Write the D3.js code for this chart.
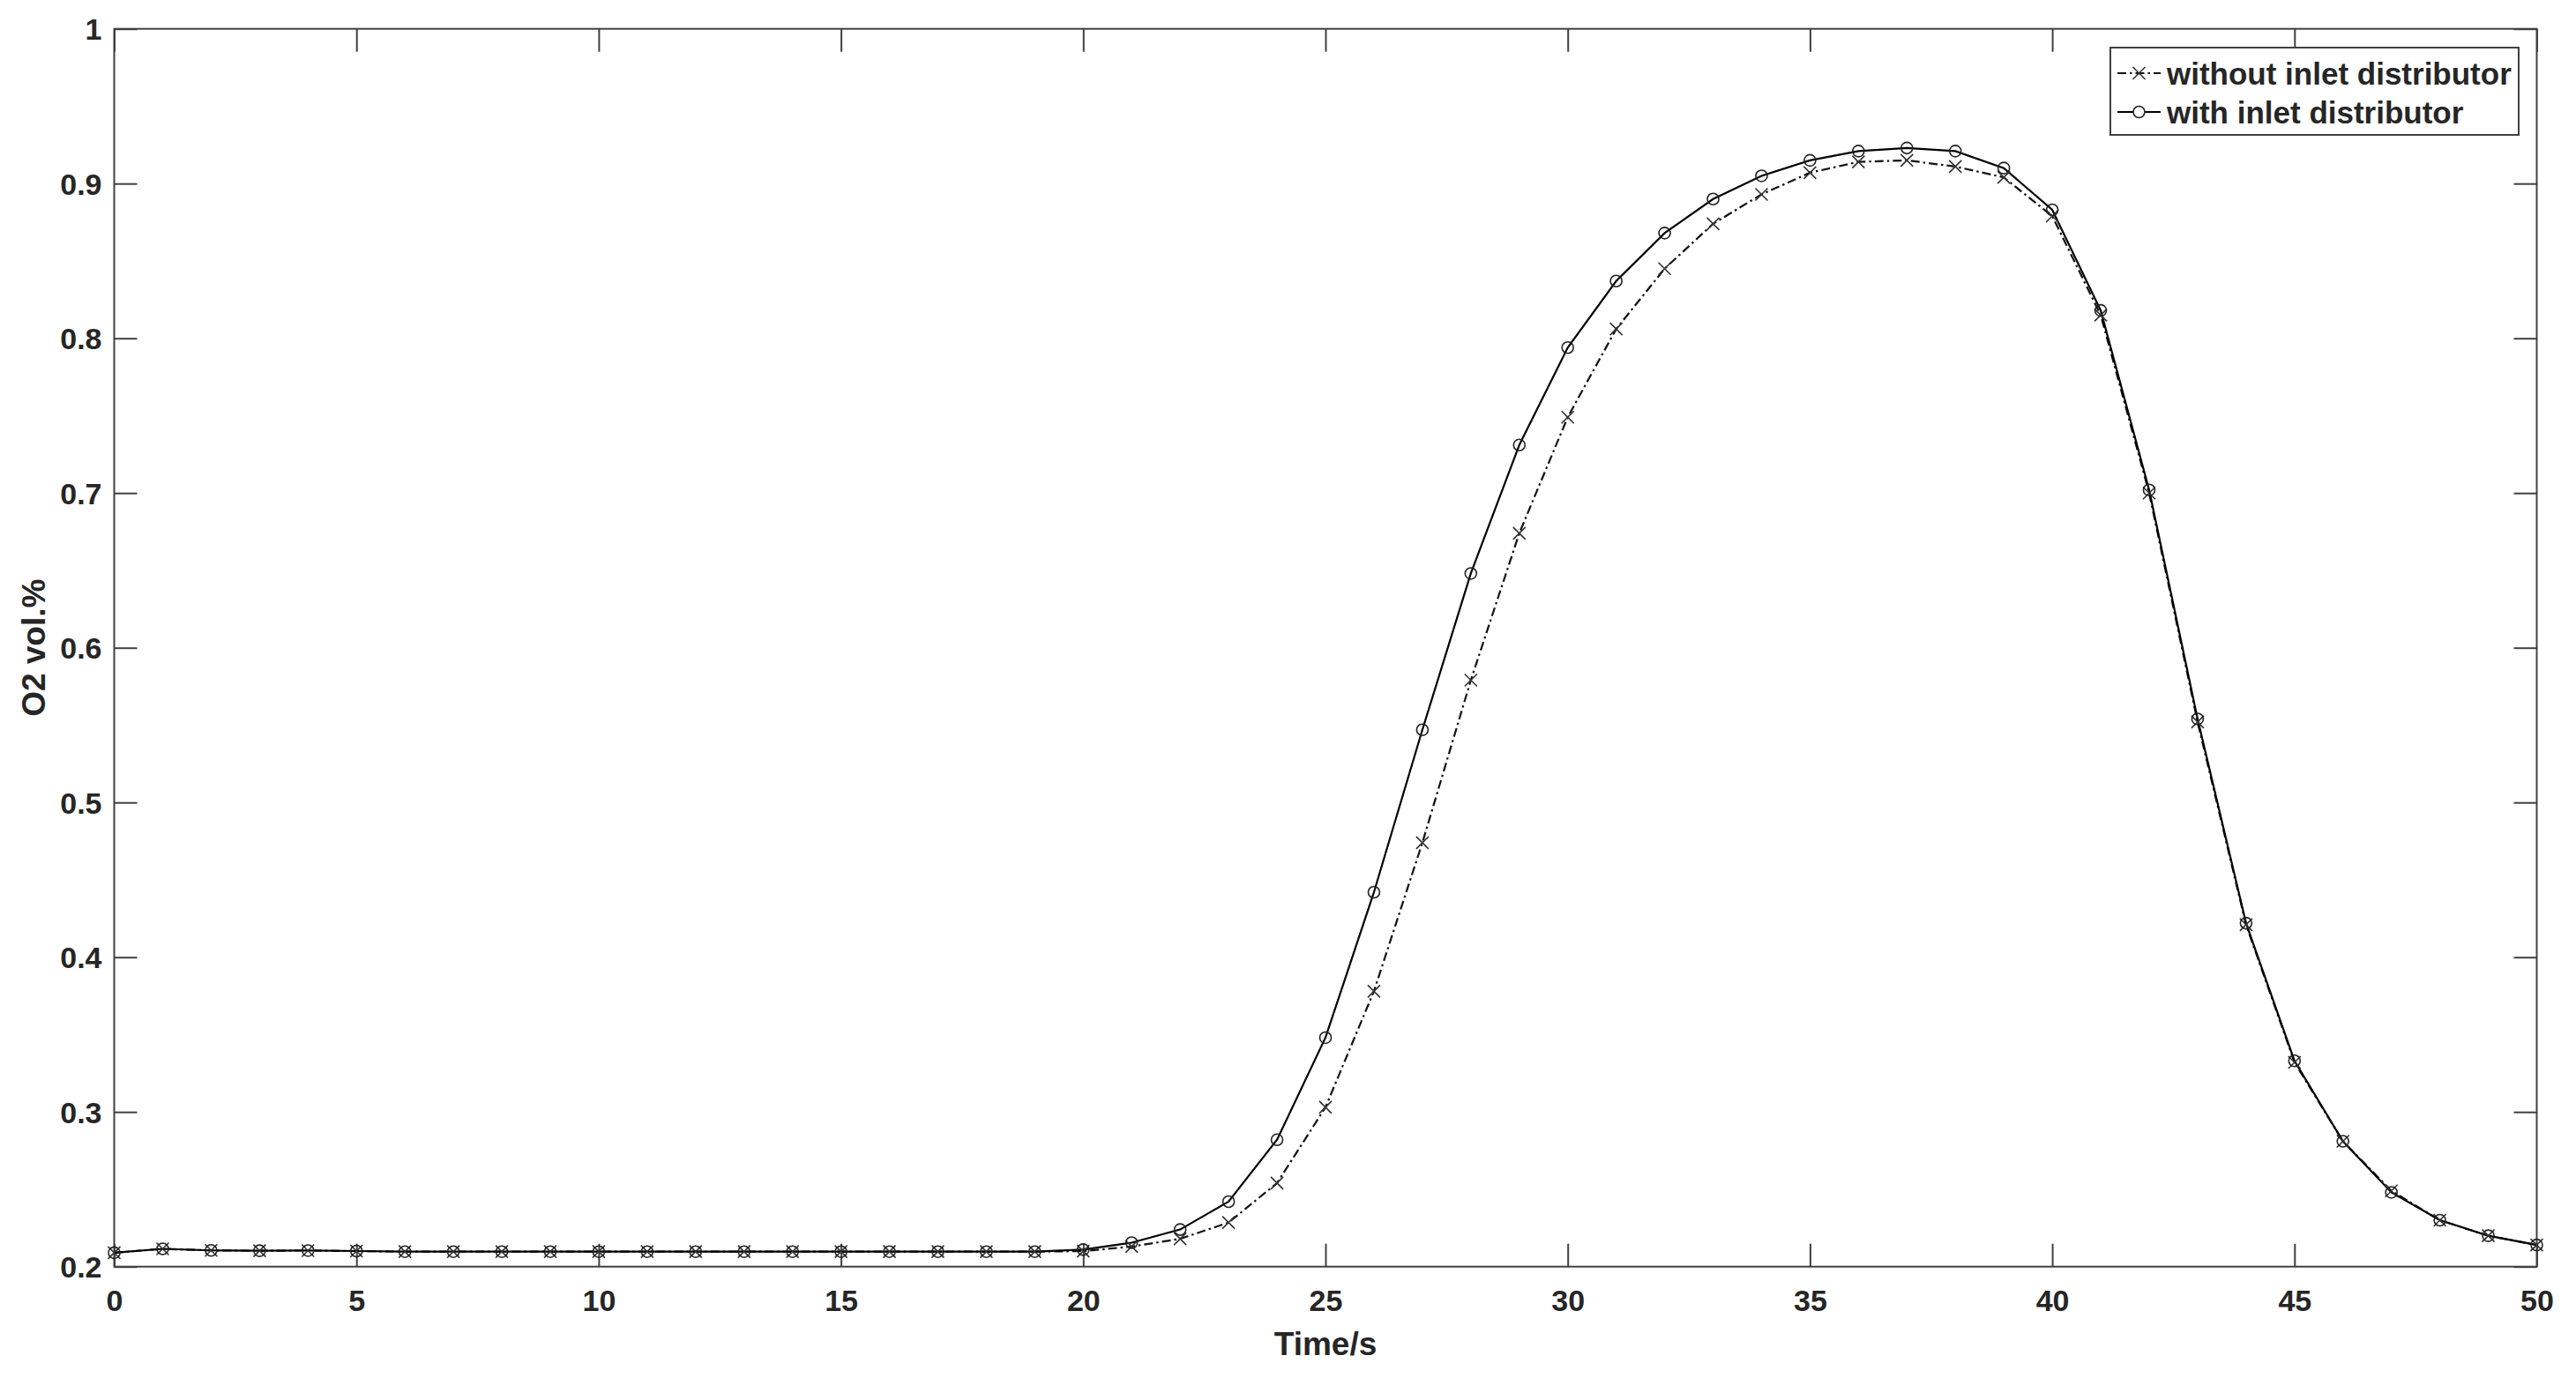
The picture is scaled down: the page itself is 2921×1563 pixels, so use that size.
<!DOCTYPE html>
<html>
<head>
<meta charset="utf-8">
<script src="https://cdn.jsdelivr.net/npm/d3@7"></script>
<style>
  html, body { margin: 0; padding: 0; background: #fff; }
  svg { display: block; }
  text { font-family: Arial, "Liberation Sans", Helvetica, sans-serif; font-weight: bold; fill: #262626; }
</style>
</head>
<body>
<script>
// ---- data ----
const times = d3.range(0, 51); // 0..50 s
const withoutDistributor = [
  0.209, 0.2115, 0.2105, 0.2103, 0.2104, 0.2101, 0.2097, 0.2097, 0.2097, 0.2097,
  0.2097, 0.2097, 0.2097, 0.2097, 0.2097, 0.2097, 0.2097, 0.2097, 0.2097, 0.2097,
  0.2100, 0.213, 0.218, 0.2285, 0.254, 0.303, 0.378, 0.474, 0.579, 0.674,
  0.749, 0.806, 0.845, 0.874, 0.893, 0.907, 0.914, 0.915, 0.911, 0.904,
  0.879, 0.815, 0.700, 0.552, 0.421, 0.332, 0.281, 0.249, 0.230, 0.220,
  0.214
];
const withDistributor = [
  0.209, 0.2115, 0.2105, 0.2103, 0.2104, 0.2101, 0.2097, 0.2097, 0.2097, 0.2097,
  0.2097, 0.2097, 0.2097, 0.2097, 0.2097, 0.2097, 0.2097, 0.2097, 0.2097, 0.2097,
  0.2110, 0.2155, 0.224, 0.242, 0.282, 0.348, 0.442, 0.547, 0.648, 0.731,
  0.794, 0.837, 0.868, 0.890, 0.905, 0.915, 0.921, 0.923, 0.921, 0.910,
  0.883, 0.818, 0.702, 0.554, 0.422, 0.333, 0.281, 0.248, 0.230, 0.220,
  0.214
];
const xTicks = [0, 5, 10, 15, 20, 25, 30, 35, 40, 45, 50];
const yTicks = [0.2, 0.3, 0.4, 0.5, 0.6, 0.7, 0.8, 0.9, 1];
const yTickLabels = ["0.2", "0.3", "0.4", "0.5", "0.6", "0.7", "0.8", "0.9", "1"];
const seriesNames = ["without inlet distributor", "with inlet distributor"];
const xTitle = "Time/s";
const yTitle = "O2 vol.%";

// ---- layout ----
const W = 2921, H = 1563;
const L = 129.5, R = 2876.5, T = 32.7, B = 1436.7;
const axisColor = "#404040";

const svg = d3.select("body").append("svg").attr("width", W).attr("height", H);

const x = d3.scaleLinear().domain([0, 50]).range([L, R]);
const y = d3.scaleLinear().domain([0.2, 1]).range([B, T]);

// axes (ticks inside, MATLAB style box)
function styleAxis(g) {
  g.select(".domain").remove();
  g.selectAll(".tick line").attr("stroke", axisColor).attr("stroke-width", 2);
}
const gxb = svg.append("g").attr("transform", `translate(0,${B})`)
  .call(d3.axisBottom(x).tickValues(xTicks).tickSize(-26).tickPadding(0).tickFormat(d3.format("d")));
styleAxis(gxb);
gxb.selectAll(".tick text").attr("y", 50).attr("dy", 0).attr("font-size", 34).attr("fill", "#262626")
  .style("font-family", "Arial, 'Liberation Sans', sans-serif").style("font-weight", "bold");

const gxt = svg.append("g").attr("transform", `translate(0,${T})`)
  .call(d3.axisTop(x).tickValues(xTicks).tickSize(-26).tickFormat(""));
styleAxis(gxt);

const gyl = svg.append("g").attr("transform", `translate(${L},0)`)
  .call(d3.axisLeft(y).tickValues(yTicks).tickSize(-26).tickFormat((d, i) => yTickLabels[i]));
styleAxis(gyl);
gyl.selectAll(".tick text").attr("x", -14).attr("dy", "0.36em").attr("font-size", 34).attr("fill", "#262626")
  .style("font-family", "Arial, 'Liberation Sans', sans-serif").style("font-weight", "bold");

const gyr = svg.append("g").attr("transform", `translate(${R},0)`)
  .call(d3.axisRight(y).tickValues(yTicks).tickSize(-26).tickFormat(""));
styleAxis(gyr);

// box
svg.append("rect").attr("x", L).attr("y", T).attr("width", R - L).attr("height", B - T)
  .attr("fill", "none").attr("stroke", axisColor).attr("stroke-width", 2);

// axis titles
svg.append("text").attr("x", (L + R) / 2).attr("y", 1537).attr("text-anchor", "middle")
  .attr("font-size", 37).text(xTitle);
svg.append("text").attr("transform", `translate(51,${(T + B) / 2}) rotate(-90)`)
  .attr("text-anchor", "middle").attr("font-size", 37).text(yTitle);

// lines
const line = d3.line().x((d, i) => x(times[i])).y(d => y(d));
const dashPattern = "10,4,2.5,4";

svg.append("path").datum(withoutDistributor).attr("d", line)
  .attr("fill", "none").attr("stroke", "#111").attr("stroke-width", 2.2)
  .attr("stroke-dasharray", dashPattern);
svg.append("path").datum(withDistributor).attr("d", line)
  .attr("fill", "none").attr("stroke", "#000").attr("stroke-width", 2.2);

// markers
function xMarker(g, cx, cy, s) {
  g.append("path").attr("d", `M${cx - s},${cy - s}L${cx + s},${cy + s}M${cx - s},${cy + s}L${cx + s},${cy - s}`)
    .attr("stroke", "#333").attr("stroke-width", 1.6).attr("fill", "none");
}
const gm1 = svg.append("g");
withoutDistributor.forEach((v, i) => xMarker(gm1, x(times[i]), y(v), 7));
const gm2 = svg.append("g");
gm2.selectAll("circle").data(withDistributor).join("circle")
  .attr("cx", (d, i) => x(times[i])).attr("cy", d => y(d)).attr("r", 6.5)
  .attr("fill", "none").attr("stroke", "#222").attr("stroke-width", 1.6);

// legend
const lg = svg.append("g");
lg.append("rect").attr("x", 2393).attr("y", 54).attr("width", 2856 - 2393).attr("height", 153 - 54)
  .attr("fill", "#fff").attr("stroke", axisColor).attr("stroke-width", 2);
const rows = [83, 127];
// row 1: dash-dot with x
lg.append("line").attr("x1", 2401).attr("x2", 2450).attr("y1", rows[0]).attr("y2", rows[0])
  .attr("stroke", "#111").attr("stroke-width", 2.2).attr("stroke-dasharray", dashPattern);
xMarker(lg, 2425.5, rows[0], 7);
// row 2: solid with circle
lg.append("line").attr("x1", 2401).attr("x2", 2450).attr("y1", rows[1]).attr("y2", rows[1])
  .attr("stroke", "#000").attr("stroke-width", 2.2);
lg.append("circle").attr("cx", 2425.5).attr("cy", rows[1]).attr("r", 6.5)
  .attr("fill", "#fff").attr("stroke", "#222").attr("stroke-width", 1.6);
seriesNames.forEach((name, i) => {
  lg.append("text").attr("x", 2457).attr("y", rows[i]).attr("dy", "0.36em")
    .attr("font-size", 35).text(name);
});
</script>
</body>
</html>
